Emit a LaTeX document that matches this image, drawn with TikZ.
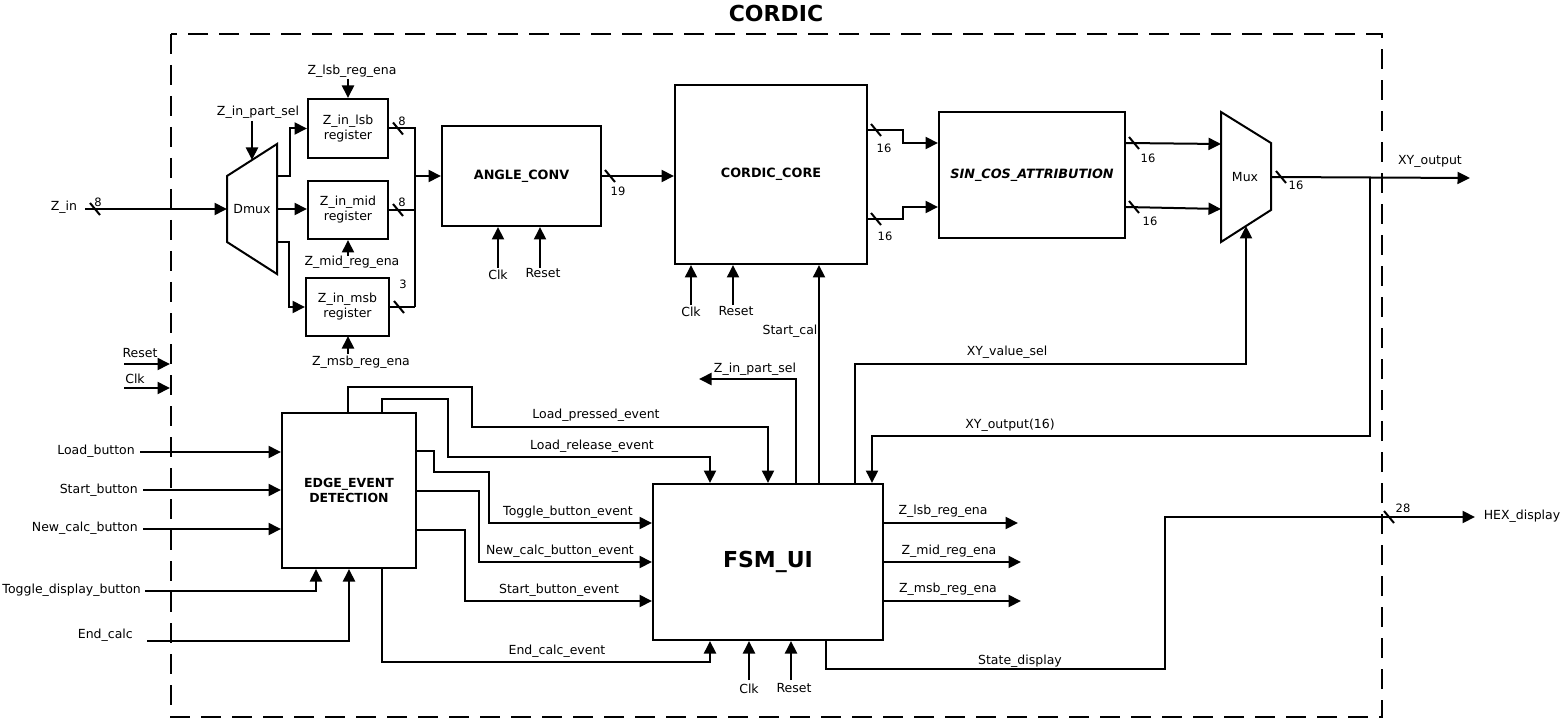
\documentclass[tikz,border=0pt]{standalone}
\usepackage{fontspec}
\setmainfont{DejaVu Sans}
\usetikzlibrary{arrows.meta,calc}
\begin{document}
\begin{tikzpicture}[x=1pt,y=-1pt,
  wire/.style={line width=2pt},
  arr/.style={line width=2pt,-{Triangle[length=12.5pt,width=12pt]}},
  blk/.style={draw,line width=2pt,inner sep=0pt,align=center,font=\fontsize{12.5}{15}\selectfont},
  lbl/.style={inner sep=0pt,font=\fontsize{12.5}{15}\selectfont},
  num/.style={inner sep=0pt,font=\fontsize{11.5}{13}\selectfont},
  bold/.style={font=\fontsize{12.8}{15}\selectfont\bfseries},
]
\useasboundingbox (0,0) rectangle (1563,719);
% title and boundary
\node[inner sep=0pt,font=\fontsize{22}{26}\selectfont\bfseries] (title) at (776,13) {CORDIC};
\draw[line width=2pt,dash pattern=on 20pt off 11pt] (171,34) rectangle (1382,717);

% blocks
\node[blk,minimum width=80pt,minimum height=59pt] (lsb) at (348,128.5) {Z\_in\_lsb\\register};
\node[blk,minimum width=80pt,minimum height=58pt] (mid) at (348,210) {Z\_in\_mid\\register};
\node[blk,minimum width=83pt,minimum height=58pt] (msb) at (347.5,307) {Z\_in\_msb\\register};
\node[blk,bold,minimum width=159pt,minimum height=100pt] (angle) at (521.5,176) {ANGLE\_CONV};
\node[blk,bold,minimum width=192pt,minimum height=179pt] (cordic) at (771,174.5) {CORDIC\_CORE};
\node[blk,minimum width=186pt,minimum height=126pt,font=\fontsize{12.8}{15}\selectfont\bfseries\itshape] (sincos) at (1032,175) {SIN\_COS\_ATTRIBUTION};
\node[blk,bold,minimum width=134pt,minimum height=155pt,font=\fontsize{12.5}{15}\selectfont\bfseries] (edge) at (349,490.5) {EDGE\_EVENT\\DETECTION};
\node[blk,minimum width=230pt,minimum height=156pt,font=\fontsize{22}{26}\selectfont\bfseries] (fsm) at (768,562) {FSM\_UI};

% Dmux
\coordinate (dmA) at (227,176); \coordinate (dmB) at (277,144);
\coordinate (dmC) at (277,274); \coordinate (dmD) at (227,242);
\draw[wire,line join=miter] (dmA) -- (dmB) -- (dmC) -- (dmD) -- cycle;
\node[lbl] (dmuxl) at (252,209) {Dmux};
% Mux
\coordinate (mxA) at (1221,112); \coordinate (mxB) at (1271,143);
\coordinate (mxC) at (1271,210); \coordinate (mxD) at (1221,242);
\draw[wire,line join=miter] (mxA) -- (mxB) -- (mxC) -- (mxD) -- cycle;
\node[lbl] (muxl) at (1245,177) {Mux};

% Z_in
\node[lbl] (zinl) at (64,207) {Z\_in};
\coordinate (zin) at (85,209);
\draw[arr] (zin) -- (dmA |- zin);
\draw[wire] (95,209) ++(-5,-6) -- ++(10,12);
\node[num] at (98,202) {8};
% part sel
\node[lbl] (psl) at (258,112) {Z\_in\_part\_sel};
\draw[arr] (252,121) -- (252,160);
% dmux outputs
\draw[arr] (277,176) -- (290,176) |- (lsb.west);
\draw[arr] (277,209) -- (lsb.west |- 0,209);
\draw[arr] (277,242) -- (289,242) |- (msb.west);
% enables
\node[lbl] (lsben) at (352,71) {Z\_lsb\_reg\_ena};
\draw[arr] (348,79) -- (lsb.north);
\node[lbl] (miden) at (352,262) {Z\_mid\_reg\_ena};
\draw[arr] (348,256) -- (mid.south);
\node[lbl] (msben) at (361,362) {Z\_msb\_reg\_ena};
\draw[arr] (348,354) -- (348,336);
% register outputs / bus
\draw[wire] (lsb.east) -- (415,128.5) -- (415,307);
\draw[wire] (mid.east) -- (415,210);
\draw[wire] (msb.east) -- (415,307);
\draw[arr] (415,176) -- (angle.west);
\draw[wire] (398,128.5) ++(-5,-6) -- ++(10,12);
\draw[wire] (398,210) ++(-5,-6) -- ++(10,12);
\draw[wire] (399,307) ++(-5,-6) -- ++(10,12);
\node[num] at (402,121) {8};
\node[num] at (402,202) {8};
\node[num] at (403,284) {3};

% angle conv
\draw[arr] (angle.east) -- (cordic.west |- angle.east);
\draw[wire] (610,176) ++(-5,-6) -- ++(10,12);
\node[num] at (618,191) {19};
\draw[arr] (498,268) -- (498,0 |- angle.south);
\draw[arr] (540,268) -- (540,0 |- angle.south);
\node[lbl] at (498,275) {Clk};
\node[lbl] at (543,273) {Reset};

% cordic core
\draw[arr] (691,305) -- (691,0 |- cordic.south);
\draw[arr] (733,305) -- (733,0 |- cordic.south);
\node[lbl] at (691,312) {Clk};
\node[lbl] at (736,311) {Reset};
\draw[arr] (cordic.east |- 0,130) -- (903,130) |- (sincos.west |- 0,143);
\draw[arr] (cordic.east |- 0,219) -- (903,219) |- (sincos.west |- 0,207);
\draw[wire] (876,130) ++(-5,-6) -- ++(10,12);
\draw[wire] (876,219) ++(-5,-6) -- ++(10,12);
\node[num] at (884,148) {16};
\node[num] at (885,236) {16};
% start_cal
\draw[arr] (819,0 |- fsm.north) -- (819,0 |- cordic.south);
\node[lbl] at (790,331) {Start\_cal};

% sincos to mux
\draw[arr] (sincos.east |- 0,143) -- (mxA |- 0,144);
\draw[arr] (sincos.east |- 0,207) -- (mxA |- 0,209);
\draw[wire] (1134,143) ++(-5,-6) -- ++(10,12);
\draw[wire] (1134,207) ++(-5,-6) -- ++(10,12);
\node[num] at (1148,158) {16};
\node[num] at (1150,221) {16};
% mux output
\coordinate (xyout) at (1470,178);
\draw[arr] (1271,177) -- (xyout);
\draw[wire] (1281,177) ++(-5,-6) -- ++(10,12);
\node[num] at (1296,185) {16};
\node[lbl] at (1430,161) {XY\_output};

% left inputs Reset / Clk
\node[lbl] at (140,353) {Reset};
\draw[arr] (124,364) -- (170,364);
\node[lbl] at (135,379) {Clk};
\draw[arr] (124,388) -- (170,388);

% edge inputs
\node[lbl,anchor=east] at (135,451) {Load\_button};
\node[lbl,anchor=east] at (138,490) {Start\_button};
\node[lbl,anchor=east] at (138,528) {New\_calc\_button};
\node[lbl,anchor=east] at (141,590) {Toggle\_display\_button};
\node[lbl,anchor=east] at (133,635) {End\_calc};
\draw[arr] (140,452) -- (edge.west |- 0,452);
\draw[arr] (143,490) -- (edge.west |- 0,490);
\draw[arr] (143,529) -- (edge.west |- 0,529);
\draw[arr] (145,591) -| (316,0 |- edge.south);
\draw[arr] (147,641) -| (edge.south);

% edge outputs
\draw[arr] (348,0 |- edge.north) |- (472,387) -- (472,427) -| (768,0 |- fsm.north);
\node[lbl] at (596,415) {Load\_pressed\_event};
\draw[arr] (382,0 |- edge.north) |- (448,399) -- (448,457) -| (710,0 |- fsm.north);
\node[lbl] at (592,446) {Load\_release\_event};
\draw[arr] (edge.east |- 0,451) -- (434,451) -- (434,472) -- (489,472) |- (fsm.west |- 0,523);
\node[lbl] at (568,512) {Toggle\_button\_event};
\draw[arr] (edge.east |- 0,491) -| (479,562) -- (fsm.west |- 0,562);
\node[lbl] at (560,551) {New\_calc\_button\_event};
\draw[arr] (edge.east |- 0,530) -| (465,601) -- (fsm.west |- 0,601);
\node[lbl] at (559,590) {Start\_button\_event};
\draw[arr] (382,0 |- edge.south) |- (710,662) -- (710,0 |- fsm.south);
\node[lbl] at (557,651) {End\_calc\_event};

% fsm
\draw[arr] (749,680) -- (749,0 |- fsm.south);
\draw[arr] (791,680) -- (791,0 |- fsm.south);
\node[lbl] at (749,689) {Clk};
\node[lbl] at (794,688) {Reset};
\draw[arr] (795.5,0 |- fsm.north) |- (699,379);
\node[lbl] at (755,369) {Z\_in\_part\_sel};
\draw[arr] (855,0 |- fsm.north) |- (1246,364) -- (1246,226);
\node[lbl] at (1007,352) {XY\_value\_sel};
\draw[arr] (1370,177.5) |- (872,436) -- (872,0 |- fsm.north);
\node[lbl] at (1010,425) {XY\_output(16)};
\draw[arr] (fsm.east |- 0,523) -- (1018,523);
\node[lbl] at (943,511) {Z\_lsb\_reg\_ena};
\draw[arr] (fsm.east |- 0,562) -- (1021,562);
\node[lbl] at (949,551) {Z\_mid\_reg\_ena};
\draw[arr] (fsm.east |- 0,601) -- (1021,601);
\node[lbl] at (948,589) {Z\_msb\_reg\_ena};
\coordinate (hex) at (1475,517);
\draw[arr] (826,0 |- fsm.south) |- (1165,669) |- (hex);
\node[lbl] at (1020,661) {State\_display};
\draw[wire] (1389,517) ++(-5,-6) -- ++(10,12);
\node[num] at (1403,508) {28};
\node[lbl] at (1522,516) {HEX\_display};
\end{tikzpicture}
\end{document}
